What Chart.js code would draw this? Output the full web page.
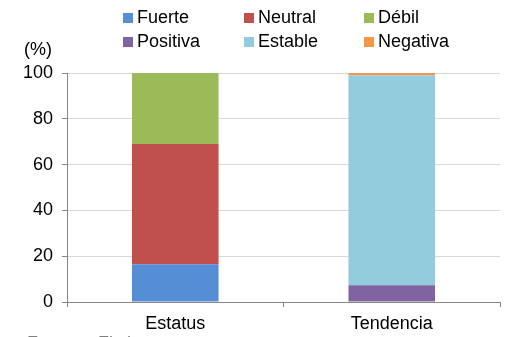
<!DOCTYPE html>
<html>
<head>
<meta charset="utf-8">
<script src="https://cdn.jsdelivr.net/npm/chart.js@4.4.1/dist/chart.umd.min.js"></script>
<style>
  html, body { margin: 0; padding: 0; background: #fff; }
  #wrap { width: 508px; height: 337px; }
</style>
</head>
<body>
<div id="wrap"><canvas id="chart" width="508" height="337"></canvas></div>
<script>
const categories = ["Estatus", "Tendencia"]
const fuerte = [16.5, null]
const neutral = [52.5, null]
const debil = [31, null]
const positiva = [null, 7.3]
const estable = [null, 91.7]
const negativa = [null, 1]
const yTicks = [0, 20, 40, 60, 80, 100]

const FONT = "'Liberation Sans', Arial, sans-serif"

// legend in two rows of three, drawn by hand to keep the columns aligned
const gridLegend = {
  id: "gridLegend",
  afterDraw(chart) {
    const ctx = chart.ctx
    const cols = [123, 244, 364]
    const rows = [13, 37]
    ctx.save()
    ctx.font = "18px " + FONT
    ctx.textBaseline = "middle"
    chart.data.datasets.forEach((ds, i) => {
      const x = cols[i % 3]
      const y = rows[Math.floor(i / 3)]
      ctx.fillStyle = ds.backgroundColor
      ctx.fillRect(x, y, 10, 10)
      ctx.fillStyle = "#000"
      ctx.fillText(ds.label, x + 14, y + 5)
    })
    // unit label above the y axis
    ctx.fillText("(%)", 24, 50)
    // source line, cut off by the bottom edge
    ctx.fillStyle = "#7f7f7f"
    ctx.textBaseline = "top"
    ctx.fillText("Fuente:  Fitch", 27, 335)
    ctx.restore()
  },
}

new Chart(document.getElementById("chart"), {
  type: "bar",
  data: {
    labels: categories,
    datasets: [
      { label: "Fuerte", data: fuerte, backgroundColor: "#558ED5" },
      { label: "Neutral", data: neutral, backgroundColor: "#C0504D" },
      { label: "Débil", data: debil, backgroundColor: "#9BBB59" },
      { label: "Positiva", data: positiva, backgroundColor: "#8064A2" },
      { label: "Estable", data: estable, backgroundColor: "#93CDDD" },
      { label: "Negativa", data: negativa, backgroundColor: "#F79646" },
    ],
  },
  options: {
    responsive: false,
    animation: false,
    layout: { padding: { top: 73, right: 8, bottom: 0, left: 0 } },
    datasets: { bar: { barPercentage: 0.4, categoryPercentage: 1, borderWidth: 0 } },
    plugins: {
      legend: { display: false },
      tooltip: { enabled: false },
    },
    scales: {
      x: {
        stacked: true,
        offset: true,
        grid: {
          offset: true,
          drawOnChartArea: false,
          tickLength: 5,
          tickColor: "#868686",
        },
        border: { color: "#868686", width: 1 },
        ticks: { color: "#000", font: { family: FONT, size: 18 }, padding: 6 },
        afterFit: s => { s.height = 35 },
      },
      y: {
        stacked: true,
        min: 0,
        max: 100,
        afterBuildTicks: s => { s.ticks = yTicks.map(v => ({ value: v })) },
        grid: { color: "#d9d9d9", tickLength: 5, tickColor: "#868686" },
        border: { color: "#868686", width: 1 },
        ticks: { color: "#000", font: { family: FONT, size: 18 }, padding: 9 },
        afterFit: s => { s.width = 67 },
      },
    },
  },
  plugins: [gridLegend],
})
</script>
</body>
</html>
